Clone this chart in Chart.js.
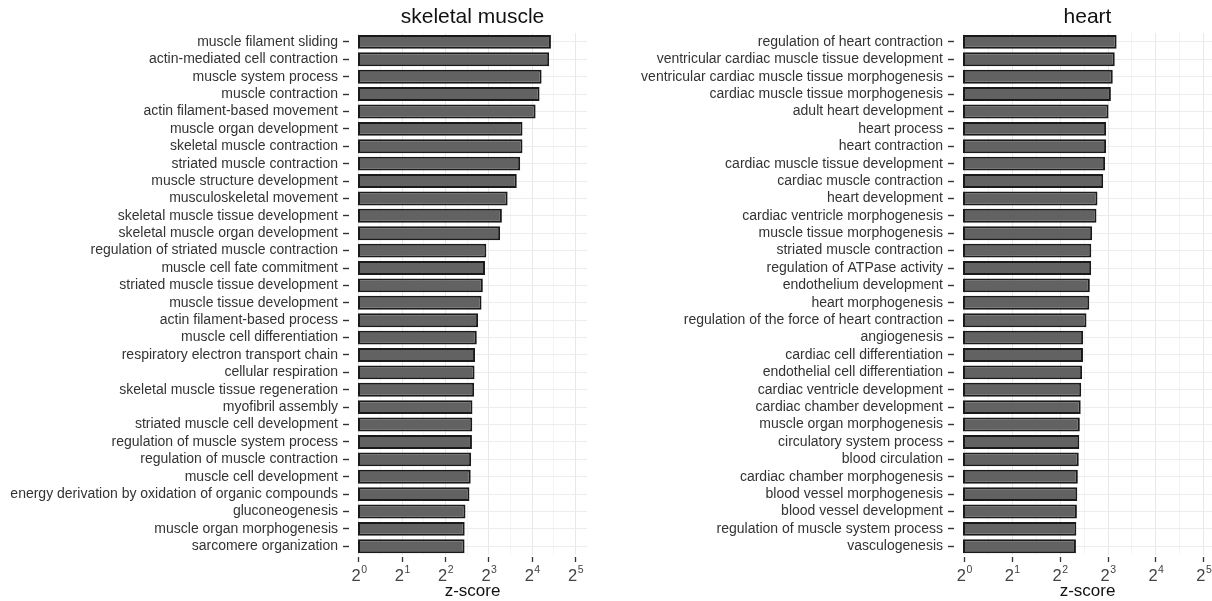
<!DOCTYPE html>
<html>
<head>
<meta charset="utf-8">
<script src="https://cdn.jsdelivr.net/npm/chart.js@4.4.1/dist/chart.umd.min.js"></script>
<style>
    html, body { margin: 0; padding: 0; background: #fff; }
    .panel { position: absolute; top: 0; height: 601px; }
    #left { left: 0; width: 600px; }
    #right { left: 600px; width: 612px; }
</style>
</head>
<body>
<div class="panel" id="left"><canvas id="skeletal" width="600" height="601"></canvas></div>
<div class="panel" id="right"><canvas id="heart" width="612" height="601"></canvas></div>
<script>
const skeletalTerms = [
    'muscle filament sliding', 'actin-mediated cell contraction', 'muscle system process',
    'muscle contraction', 'actin filament-based movement', 'muscle organ development',
    'skeletal muscle contraction', 'striated muscle contraction', 'muscle structure development',
    'musculoskeletal movement', 'skeletal muscle tissue development', 'skeletal muscle organ development',
    'regulation of striated muscle contraction', 'muscle cell fate commitment', 'striated muscle tissue development',
    'muscle tissue development', 'actin filament-based process', 'muscle cell differentiation',
    'respiratory electron transport chain', 'cellular respiration', 'skeletal muscle tissue regeneration',
    'myofibril assembly', 'striated muscle cell development', 'regulation of muscle system process',
    'regulation of muscle contraction', 'muscle cell development', 'energy derivation by oxidation of organic compounds',
    'gluconeogenesis', 'muscle organ morphogenesis', 'sarcomere organization'
];
const skeletalZ = [
    21.6, 21.0, 18.6, 18.0, 16.9, 13.7, 13.7, 13.2, 12.5, 10.8,
    9.85, 9.58, 7.68, 7.52, 7.26, 7.11, 6.73, 6.59, 6.41, 6.36,
    6.32, 6.15, 6.13, 6.10, 6.02, 5.98, 5.86, 5.50, 5.43, 5.42
];

const heartTerms = [
    'regulation of heart contraction', 'ventricular cardiac muscle tissue development',
    'ventricular cardiac muscle tissue morphogenesis', 'cardiac muscle tissue morphogenesis',
    'adult heart development', 'heart process', 'heart contraction', 'cardiac muscle tissue development',
    'cardiac muscle contraction', 'heart development', 'cardiac ventricle morphogenesis',
    'muscle tissue morphogenesis', 'striated muscle contraction', 'regulation of ATPase activity',
    'endothelium development', 'heart morphogenesis', 'regulation of the force of heart contraction',
    'angiogenesis', 'cardiac cell differentiation', 'endothelial cell differentiation',
    'cardiac ventricle development', 'cardiac chamber development', 'muscle organ morphogenesis',
    'circulatory system process', 'blood circulation', 'cardiac chamber morphogenesis',
    'blood vessel morphogenesis', 'blood vessel development', 'regulation of muscle system process',
    'vasculogenesis'
];
const heartZ = [
    9.06, 8.82, 8.57, 8.34, 8.06, 7.78, 7.78, 7.67, 7.46, 6.87,
    6.77, 6.36, 6.28, 6.27, 6.15, 6.10, 5.86, 5.58, 5.57, 5.50,
    5.43, 5.39, 5.32, 5.28, 5.24, 5.17, 5.13, 5.10, 5.06, 5.03
];

// powers of two shown on the x axis (minor grid lines sit half way between)
const powerTicks = [0, 1, 2, 3, 4, 5];

const FONT = '"Liberation Sans", Arial, Helvetica, sans-serif';

const isMajor = v => {
    const e = Math.log2(v);
    return Math.abs(e - Math.round(e)) < 1e-6;
};

// draws the 2^n labels with a raised exponent
const powerLabels = {
    id: 'powerLabels',
    afterDraw(chart) {
        const scale = chart.scales.x;
        const ctx = chart.ctx;
        ctx.save();
        ctx.fillStyle = '#444';
        ctx.textAlign = 'left';
        ctx.textBaseline = 'alphabetic';
        powerTicks.forEach(p => {
            const px = scale.getPixelForValue(Math.pow(2, p));
            ctx.font = '16.5px ' + FONT;
            const bw = ctx.measureText('2').width;
            ctx.font = '10.5px ' + FONT;
            const ew = ctx.measureText(String(p)).width;
            const left = px - (bw + ew) / 2;
            ctx.font = '16.5px ' + FONT;
            ctx.fillText('2', left, scale.top + 26);
            ctx.font = '10.5px ' + FONT;
            ctx.fillText(String(p), left + bw + 0.5, scale.top + 18);
        });
        ctx.restore();
    }
};

function makeChart(id, title, terms, values, minExp, maxExp, axisWidth, padRight) {
    const min = Math.pow(2, minExp);
    const max = Math.pow(2, maxExp);
    return new Chart(document.getElementById(id), {
        type: 'bar',
        data: {
            labels: terms,
            datasets: [{
                data: values,
                backgroundColor: '#626262',
                borderColor: '#1a1a1a',
                borderWidth: 2,
                borderSkipped: false,
                barPercentage: 0.8,
                categoryPercentage: 1
            }]
        },
        options: {
            indexAxis: 'y',
            responsive: false,
            animation: false,
            layout: { padding: { left: 0, right: padRight, top: 0, bottom: 0 } },
            plugins: {
                legend: { display: false },
                tooltip: { enabled: false },
                title: {
                    display: true,
                    text: title,
                    fullSize: false,
                    color: '#111',
                    font: { family: FONT, size: 21, weight: 'normal' },
                    padding: { top: 5, bottom: 3 }
                }
            },
            scales: {
                x: {
                    type: 'logarithmic',
                    bounds: 'data',
                    min: min,
                    max: max,
                    afterBuildTicks: scale => {
                        const ticks = [];
                        powerTicks.forEach(p => {
                            [p, p + 0.5].forEach(e => {
                                const v = Math.pow(2, e);
                                if (v >= min && v <= max) ticks.push({ value: v });
                            });
                        });
                        scale.ticks = ticks;
                    },
                    afterFit: scale => { scale.height = 46; },
                    ticks: { display: false },
                    grid: {
                        color: c => isMajor(c.tick.value) ? '#e8e8e8' : '#f4f4f4',
                        tickColor: c => isMajor(c.tick.value) ? '#333' : 'rgba(0,0,0,0)',
                        lineWidth: 1,
                        tickWidth: 1.3,
                        tickLength: 8,
                        tickBorderDash: [0, 2, 5, 20]
                    },
                    border: { display: false },
                    title: {
                        display: true,
                        text: 'z-score',
                        color: '#111',
                        font: { family: FONT, size: 17 },
                        padding: { top: 0, bottom: -1 }
                    }
                },
                y: {
                    afterFit: scale => { scale.width = axisWidth; },
                    ticks: {
                        autoSkip: false,
                        padding: 5,
                        color: '#333',
                        font: { family: FONT, size: 14 }
                    },
                    grid: {
                        offset: false,
                        color: '#ececec',
                        tickColor: '#333',
                        tickWidth: 1.4,
                        tickLength: 15,
                        tickBorderDash: [6, 20]
                    },
                    border: { display: false }
                }
            }
        },
        plugins: [powerLabels]
    });
}

makeChart('skeletal', 'skeletal muscle', skeletalTerms, skeletalZ, -0.023, 5.266, 358, 13);
makeChart('heart', 'heart', heartTerms, heartZ, -0.027, 5.171, 363, 0);
</script>
</body>
</html>
